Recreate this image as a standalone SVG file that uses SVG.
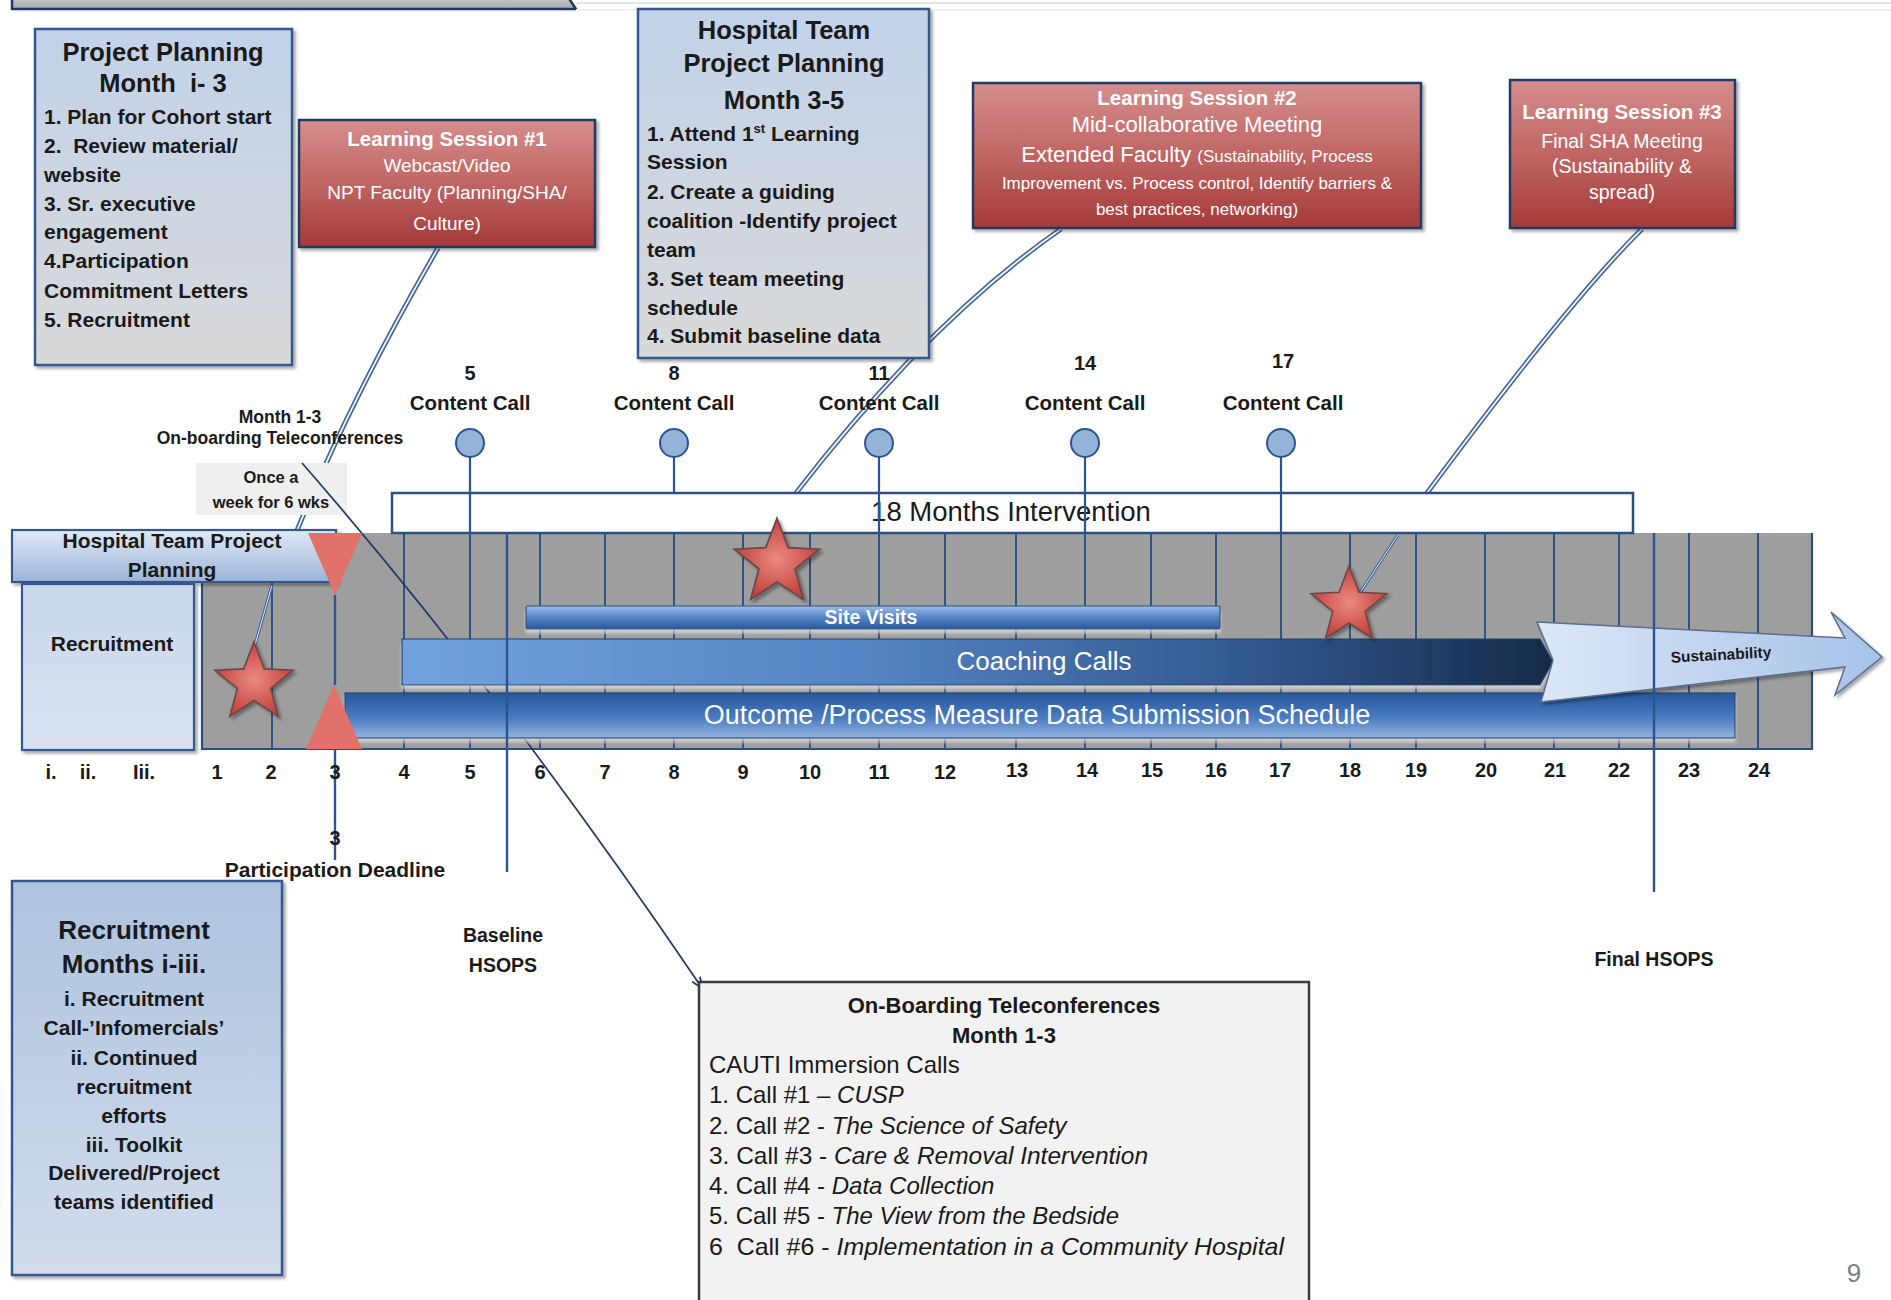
<svg xmlns="http://www.w3.org/2000/svg" width="1891" height="1300" viewBox="0 0 1891 1300">
<defs>
<style>
text{font-family:"Liberation Sans",Arial,sans-serif;fill:#1a1a1a}
.m{text-anchor:middle}
.b{font-weight:bold}
.w{fill:#fff}
.hdr{font-size:25.5px;font-weight:bold}
.lst{font-size:21px;font-weight:bold}
.ls{fill:url(#gRed);stroke:#243a63;stroke-width:2.5}
.pb{fill:url(#gPB);stroke:#35598c;stroke-width:2.5}
.gl{stroke:#244a7d;stroke-width:1.8}
.stem{stroke:#2b5490;stroke-width:2.2}
.ccirc{fill:#95b3d7;stroke:#2b5490;stroke-width:2}
.dblo{fill:none;stroke:#3d639d;stroke-width:5}
.dbli{fill:none;stroke:#f2f2f2;stroke-width:1.8}
.mk{stroke:#2b5490;stroke-width:2.4}
.mon{font-size:20px;font-weight:bold;text-anchor:middle}
.tri{fill:#e1716a}
.star{fill:url(#gStar);stroke:#6e4646;stroke-width:1.6}
.ob{font-size:24px}
</style>
<linearGradient id="gPB" x1="0" y1="0" x2="0" y2="1"><stop offset="0" stop-color="#c2d2e9"/><stop offset="1" stop-color="#d9d9d9"/></linearGradient>
<linearGradient id="gRecBig" x1="0" y1="0" x2="0" y2="1"><stop offset="0" stop-color="#aec3df"/><stop offset="1" stop-color="#d2dcec"/></linearGradient>
<linearGradient id="gRecSm" x1="0" y1="0" x2="0" y2="1"><stop offset="0" stop-color="#cad8ec"/><stop offset="1" stop-color="#d8e1f0"/></linearGradient>
<linearGradient id="gHTPP" x1="0" y1="0" x2="0" y2="1"><stop offset="0" stop-color="#e0e9f5"/><stop offset="1" stop-color="#9bb5d8"/></linearGradient>
<linearGradient id="gRed" x1="0" y1="0" x2="0" y2="1"><stop offset="0" stop-color="#d58e8c"/><stop offset="0.5" stop-color="#c06664"/><stop offset="1" stop-color="#a43a38"/></linearGradient>
<linearGradient id="gSite" x1="0" y1="0" x2="0" y2="1"><stop offset="0" stop-color="#9dbde8"/><stop offset="0.45" stop-color="#5a8acb"/><stop offset="1" stop-color="#2a5898"/></linearGradient>
<linearGradient id="gCoach" x1="0" y1="0" x2="1" y2="0"><stop offset="0" stop-color="#72a2de"/><stop offset="0.4" stop-color="#5584c4"/><stop offset="0.75" stop-color="#30568c"/><stop offset="1" stop-color="#162a48"/></linearGradient>
<linearGradient id="gOut" x1="0" y1="0" x2="0" y2="1"><stop offset="0" stop-color="#27569c"/><stop offset="0.55" stop-color="#4a7cc0"/><stop offset="1" stop-color="#94b4e0"/></linearGradient>
<linearGradient id="gSust" x1="0" y1="0" x2="1" y2="0"><stop offset="0" stop-color="#dce8f7"/><stop offset="1" stop-color="#a6c2e8"/></linearGradient>
<linearGradient id="gTop" x1="0" y1="0" x2="0" y2="1"><stop offset="0" stop-color="#d0d0d0"/><stop offset="1" stop-color="#a8a8a8"/></linearGradient>
<radialGradient id="gStar"><stop offset="0" stop-color="#ea8a80"/><stop offset="1" stop-color="#c3423e"/></radialGradient>
<filter id="sh" x="-5%" y="-10%" width="115%" height="130%"><feDropShadow dx="2.5" dy="2.5" stdDeviation="1.5" flood-color="#000" flood-opacity="0.35"/></filter>
<filter id="shb" x="-5%" y="-20%" width="110%" height="160%"><feDropShadow dx="0" dy="4" stdDeviation="1.5" flood-color="#e0e0e0" flood-opacity="0.7"/></filter>
<clipPath id="noBox"><path clip-rule="evenodd" d="M0,0H1891V1300H0Z M196,463H347V515H196Z"/></clipPath>
<marker id="arr" viewBox="0 0 10 10" refX="9" refY="5" markerWidth="7" markerHeight="7" orient="auto"><path d="M0,1 L9,5 L0,9" fill="none" stroke="#1f3864" stroke-width="1.5"/></marker>
<path id="star" d="M0,-40 L9.99,-13.75 L38.04,-12.36 L16.17,5.25 L23.51,32.36 L0,17 L-23.51,32.36 L-16.17,5.25 L-38.04,-12.36 L-9.99,-13.75 Z"/>
<path id="c1" d="M438,248 Q350,400 296,533"/>
<path id="c2" d="M1061,229 Q930,320 796,493"/>
<path id="c3" d="M1642,229 Q1570,300 1427,493"/>
</defs>
<rect width="1891" height="1300" fill="#fff"/>

<g id="top-strip">
<path d="M12,-6 V9 H576 L566,-6 Z" fill="url(#gTop)" stroke="#1f3864" stroke-width="2.5"/>
<line x1="576" y1="3" x2="1891" y2="3" stroke="#e4e4e4" stroke-width="2"/>
<line x1="576" y1="10" x2="1891" y2="10" stroke="#f0f0f0" stroke-width="2"/>
</g>

<g id="timeline-grid">
<rect x="202" y="533" width="1610" height="216" fill="#9e9e9e"/>
<g class="gl">
<line x1="272" y1="582" x2="272" y2="749"/>
<line x1="404" y1="533" x2="404" y2="749"/>
<line x1="470" y1="533" x2="470" y2="749"/>
<line x1="540" y1="533" x2="540" y2="749"/>
<line x1="605" y1="533" x2="605" y2="749"/>
<line x1="674" y1="533" x2="674" y2="749"/>
<line x1="743" y1="533" x2="743" y2="749"/>
<line x1="810" y1="533" x2="810" y2="749"/>
<line x1="879" y1="533" x2="879" y2="749"/>
<line x1="945" y1="533" x2="945" y2="749"/>
<line x1="1016" y1="533" x2="1016" y2="749"/>
<line x1="1085" y1="533" x2="1085" y2="749"/>
<line x1="1151" y1="533" x2="1151" y2="749"/>
<line x1="1216" y1="533" x2="1216" y2="749"/>
<line x1="1281" y1="533" x2="1281" y2="749"/>
<line x1="1350" y1="533" x2="1350" y2="749"/>
<line x1="1416" y1="533" x2="1416" y2="749"/>
<line x1="1485" y1="533" x2="1485" y2="749"/>
<line x1="1554" y1="533" x2="1554" y2="749"/>
<line x1="1619" y1="533" x2="1619" y2="749"/>
<line x1="1689" y1="533" x2="1689" y2="749"/>
<line x1="1758" y1="533" x2="1758" y2="749"/>
</g>
<path d="M202,582 V749 H1812 V533" fill="none" stroke="#2b4f82" stroke-width="2.2"/>
</g>

<g id="once-a-week">
<rect x="196" y="463" width="151" height="52" fill="#efefef"/>
<text class="m b" x="271" y="483" font-size="16.5">Once a</text>
<text class="m b" x="271" y="508" font-size="16.5">week for 6 wks</text>
</g>

<g id="connectors">
<g clip-path="url(#noBox)"><use href="#c1" class="dblo"/><use href="#c1" class="dbli"/></g>
<use href="#c2" class="dblo"/><use href="#c2" class="dbli"/>
<use href="#c3" class="dblo"/><use href="#c3" class="dbli"/>
<path d="M272,585 L255,645" fill="none" stroke="#3d639d" stroke-width="3"/>
<path d="M272,585 L255,645" fill="none" stroke="#e8e8e8" stroke-width="1"/>
<path d="M1398,535 L1352,605" fill="none" stroke="#3d639d" stroke-width="3"/>
<path d="M1398,535 L1352,605" fill="none" stroke="#e8e8e8" stroke-width="1"/>
<path d="M302,463 Q500,690 702,988" fill="none" stroke="#1f3864" stroke-width="1.7" marker-end="url(#arr)"/>
</g>

<g id="htpp-bar">
<rect x="12" y="530" width="324" height="52" fill="url(#gHTPP)" stroke="#35598c" stroke-width="2.2" filter="url(#sh)"/>
<text class="m b" x="172" y="548" font-size="21">Hospital Team Project</text>
<text class="m b" x="172" y="577" font-size="21">Planning</text>
</g>

<g id="recruitment-bar">
<rect x="22" y="584" width="172" height="166" fill="url(#gRecSm)" stroke="#35598c" stroke-width="2.2" filter="url(#sh)"/>
<text class="m b" x="112" y="651" font-size="21">Recruitment</text>
</g>

<g id="intervention-18">
<rect x="392" y="493" width="1241" height="40" fill="#fff" stroke="#2e4f7f" stroke-width="2.5"/>
<text class="m" x="1011" y="521" font-size="27.5">18 Months Intervention</text>
</g>

<g id="site-visits">
<rect x="526" y="606" width="694" height="23" rx="2" fill="url(#gSite)" stroke="#2a4f85" stroke-width="1.2" filter="url(#shb)"/>
<text class="m b w" x="871" y="624" font-size="19.5">Site Visits</text>
</g>

<g id="coaching-calls">
<path d="M402,639 H1540 L1553,662 L1540,685 H402 Z" fill="url(#gCoach)" stroke="#22406b" stroke-width="1.2" filter="url(#shb)"/>
<text class="m w" x="1044" y="670" font-size="26">Coaching Calls</text>
</g>

<g id="outcome-bar">
<rect x="345" y="693" width="1390" height="45" fill="url(#gOut)" stroke="#23467a" stroke-width="1.2" filter="url(#shb)"/>
<text class="m w" x="1037" y="724" font-size="27">Outcome /Process Measure Data Submission Schedule</text>
</g>

<g id="sustainability">
<polygon points="1537,622 1845,638 1831,612 1882,657 1835,695 1845,667 1541,702 1553,660" fill="url(#gSust)" stroke="#5a6f8c" stroke-width="1.5" filter="url(#sh)"/>
<text class="m b" x="1721" y="660" font-size="15.5" transform="rotate(-3 1721 655)">Sustainability</text>
</g>

<g id="participation-deadline">
<polygon class="tri" points="308,533 362,533 335,595"/>
<polygon class="tri" points="306,749 362,749 334,685"/>
<line class="mk" x1="335" y1="595" x2="335" y2="685"/>
<line class="mk" x1="335" y1="749" x2="335" y2="860"/>
<text class="m b" x="335" y="845" font-size="20">3</text>
<text class="m b" x="335" y="877" font-size="21">Participation Deadline</text>
</g>

<g id="stars">
<use href="#star" class="star" transform="translate(254,683) scale(1.03)" filter="url(#sh)"/>
<use href="#star" class="star" transform="translate(777,563) scale(1.12)" filter="url(#sh)"/>
<use href="#star" class="star" transform="translate(1349,606)" filter="url(#sh)"/>
</g>

<g id="content-call-5">
<text class="m b" x="470" y="380" font-size="20">5</text>
<text class="m b" x="470" y="410" font-size="20.5">Content Call</text>
<line class="stem" x1="470" y1="457" x2="470" y2="533"/>
<circle class="ccirc" cx="470" cy="443" r="14"/>
</g>
<g id="content-call-8">
<text class="m b" x="674" y="380" font-size="20">8</text>
<text class="m b" x="674" y="410" font-size="20.5">Content Call</text>
<line class="stem" x1="674" y1="457" x2="674" y2="493"/>
<circle class="ccirc" cx="674" cy="443" r="14"/>
</g>
<g id="content-call-11">
<text class="m b" x="879" y="380" font-size="20">11</text>
<text class="m b" x="879" y="410" font-size="20.5">Content Call</text>
<line class="stem" x1="879" y1="457" x2="879" y2="533"/>
<circle class="ccirc" cx="879" cy="443" r="14"/>
</g>
<g id="content-call-14">
<text class="m b" x="1085" y="370" font-size="20">14</text>
<text class="m b" x="1085" y="410" font-size="20.5">Content Call</text>
<line class="stem" x1="1085" y1="457" x2="1085" y2="533"/>
<circle class="ccirc" cx="1085" cy="443" r="14"/>
</g>
<g id="content-call-17">
<text class="m b" x="1283" y="368" font-size="20">17</text>
<text class="m b" x="1283" y="410" font-size="20.5">Content Call</text>
<line class="stem" x1="1281" y1="457" x2="1281" y2="533"/>
<circle class="ccirc" cx="1281" cy="443" r="14"/>
</g>

<g id="baseline-hsops">
<line class="mk" x1="507" y1="533" x2="507" y2="872"/>
<text class="m b" x="503" y="942" font-size="19.5">Baseline</text>
<text class="m b" x="503" y="972" font-size="19.5">HSOPS</text>
</g>

<g id="final-hsops">
<line class="mk" x1="1654" y1="533" x2="1654" y2="892"/>
<text class="m b" x="1654" y="966" font-size="19.5">Final HSOPS</text>
</g>

<g id="month-axis">
<text class="mon" x="51" y="779">i.</text>
<text class="mon" x="88" y="779">ii.</text>
<text class="mon" x="144" y="779">Iii.</text>
<text class="mon" x="217" y="779">1</text>
<text class="mon" x="271" y="779">2</text>
<text class="mon" x="335" y="779">3</text>
<text class="mon" x="404" y="779">4</text>
<text class="mon" x="470" y="779">5</text>
<text class="mon" x="540" y="779">6</text>
<text class="mon" x="605" y="779">7</text>
<text class="mon" x="674" y="779">8</text>
<text class="mon" x="743" y="779">9</text>
<text class="mon" x="810" y="779">10</text>
<text class="mon" x="879" y="779">11</text>
<text class="mon" x="945" y="779">12</text>
<text class="mon" x="1017" y="777">13</text>
<text class="mon" x="1087" y="777">14</text>
<text class="mon" x="1152" y="777">15</text>
<text class="mon" x="1216" y="777">16</text>
<text class="mon" x="1280" y="777">17</text>
<text class="mon" x="1350" y="777">18</text>
<text class="mon" x="1416" y="777">19</text>
<text class="mon" x="1486" y="777">20</text>
<text class="mon" x="1555" y="777">21</text>
<text class="mon" x="1619" y="777">22</text>
<text class="mon" x="1689" y="777">23</text>
<text class="mon" x="1759" y="777">24</text>
</g>

<g id="onboarding-label">
<text class="m b" x="280" y="423" font-size="17.5">Month 1-3</text>
<text class="m b" x="280" y="444" font-size="17.5">On-boarding Teleconferences</text>
</g>

<g id="project-planning">
<rect class="pb" x="35" y="29" width="257" height="336" filter="url(#sh)"/>
<text class="m hdr" x="163" y="61">Project Planning</text>
<text class="m hdr" x="163" y="92" xml:space="preserve">Month  i- 3</text>
<text class="lst" x="44" y="124">1. Plan for Cohort start</text>
<text class="lst" x="44" y="153" xml:space="preserve">2.  Review material/</text>
<text class="lst" x="44" y="182">website</text>
<text class="lst" x="44" y="211">3. Sr. executive</text>
<text class="lst" x="44" y="239">engagement</text>
<text class="lst" x="44" y="268">4.Participation</text>
<text class="lst" x="44" y="298">Commitment Letters</text>
<text class="lst" x="44" y="327">5. Recruitment</text>
</g>

<g id="learning-session-1">
<rect class="ls" x="299" y="120" width="296" height="127" filter="url(#sh)"/>
<text class="m b w" x="447" y="146" font-size="20.5">Learning Session #1</text>
<text class="m w" x="447" y="172" font-size="19">Webcast/Video</text>
<text class="m w" x="447" y="199" font-size="19">NPT Faculty (Planning/SHA/</text>
<text class="m w" x="447" y="230" font-size="19">Culture)</text>
</g>

<g id="hospital-team-planning">
<rect class="pb" x="638" y="9" width="291" height="349" filter="url(#sh)"/>
<text class="m hdr" x="784" y="39">Hospital Team</text>
<text class="m hdr" x="784" y="72">Project Planning</text>
<text class="m hdr" x="784" y="109">Month 3-5</text>
<text class="lst" x="647" y="141">1. Attend 1<tspan font-size="13" dy="-8">st</tspan><tspan dy="8"> Learning</tspan></text>
<text class="lst" x="647" y="169">Session</text>
<text class="lst" x="647" y="199">2. Create a guiding</text>
<text class="lst" x="647" y="228">coalition -Identify project</text>
<text class="lst" x="647" y="257">team</text>
<text class="lst" x="647" y="286">3. Set team meeting</text>
<text class="lst" x="647" y="315">schedule</text>
<text class="lst" x="647" y="343">4. Submit baseline data</text>
</g>

<g id="learning-session-2">
<rect class="ls" x="973" y="83" width="448" height="145" filter="url(#sh)"/>
<text class="m b w" x="1197" y="105" font-size="20.5">Learning Session #2</text>
<text class="m w" x="1197" y="132" font-size="22">Mid-collaborative Meeting</text>
<text class="m w" x="1197" y="162" font-size="22">Extended Faculty <tspan font-size="17">(Sustainability, Process</tspan></text>
<text class="m w" x="1197" y="189" font-size="17">Improvement vs. Process control, Identify barriers &amp;</text>
<text class="m w" x="1197" y="215" font-size="17">best practices, networking)</text>
</g>

<g id="learning-session-3">
<rect class="ls" x="1510" y="80" width="225" height="148" filter="url(#sh)"/>
<text class="m b w" x="1622" y="119" font-size="20.5">Learning Session #3</text>
<text class="m w" x="1622" y="148" font-size="19.5">Final SHA Meeting</text>
<text class="m w" x="1622" y="173" font-size="19.5">(Sustainability &amp;</text>
<text class="m w" x="1622" y="199" font-size="19.5">spread)</text>
</g>

<g id="recruitment-months">
<rect x="12" y="881" width="270" height="394" fill="url(#gRecBig)" stroke="#35598c" stroke-width="2.5" filter="url(#sh)"/>
<text class="m b" x="134" y="939" font-size="26">Recruitment</text>
<text class="m b" x="134" y="973" font-size="26">Months i-iii.</text>
<text class="m lst" x="134" y="1006">i. Recruitment</text>
<text class="m lst" x="134" y="1035">Call-’Infomercials’</text>
<text class="m lst" x="134" y="1065">ii. Continued</text>
<text class="m lst" x="134" y="1094">recruitment</text>
<text class="m lst" x="134" y="1123">efforts</text>
<text class="m lst" x="134" y="1152">iii. Toolkit</text>
<text class="m lst" x="134" y="1180">Delivered/Project</text>
<text class="m lst" x="134" y="1209">teams identified</text>
</g>

<g id="onboarding-teleconferences">
<rect x="699" y="982" width="610" height="340" fill="#f2f2f2" stroke="#3a3a3a" stroke-width="2.5"/>
<text class="m b" x="1004" y="1013" font-size="22">On-Boarding Teleconferences</text>
<text class="m b" x="1004" y="1043" font-size="22">Month 1-3</text>
<text class="ob" x="709" y="1073">CAUTI Immersion Calls</text>
<text class="ob" x="709" y="1103">1. Call #1 – <tspan font-style="italic">CUSP</tspan></text>
<text class="ob" x="709" y="1134">2. Call #2 - <tspan font-style="italic">The Science of Safety</tspan></text>
<text class="ob" x="709" y="1164" textLength="439" lengthAdjust="spacingAndGlyphs">3. Call #3 - <tspan font-style="italic">Care &amp; Removal Intervention</tspan></text>
<text class="ob" x="709" y="1194">4. Call #4 - <tspan font-style="italic">Data Collection</tspan></text>
<text class="ob" x="709" y="1224" textLength="410" lengthAdjust="spacingAndGlyphs">5. Call #5 - <tspan font-style="italic">The View from the Bedside</tspan></text>
<text class="ob" x="709" y="1255" xml:space="preserve" textLength="575" lengthAdjust="spacingAndGlyphs">6  Call #6 - <tspan font-style="italic">Implementation in a Community Hospital</tspan></text>
</g>

<g id="page-number">
<text class="m" x="1854" y="1282" font-size="26" style="fill:#7f7f7f">9</text>
</g>
</svg>
